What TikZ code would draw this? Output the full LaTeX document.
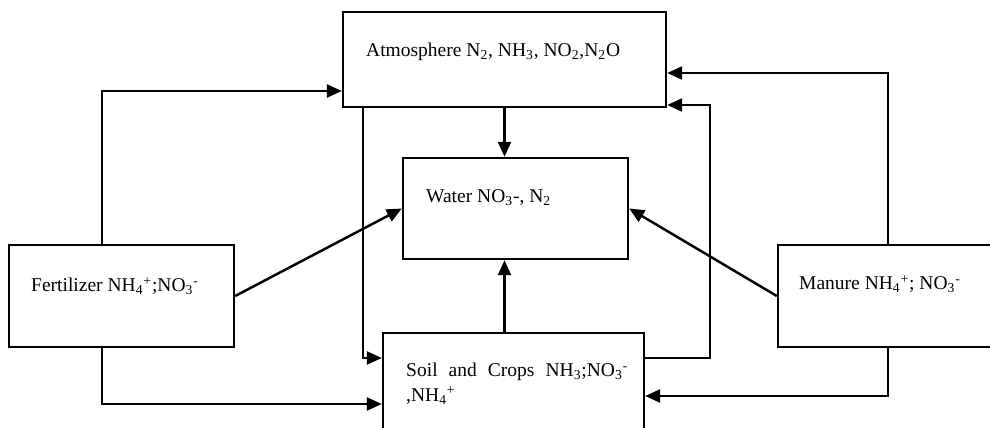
\documentclass[tikz,border=0pt]{standalone}
\usepackage{fontspec}
\setmainfont{Liberation Serif}
\usetikzlibrary{arrows.meta}

\begin{document}
\begin{tikzpicture}[x=0.02cm,y=-0.02cm,>={Triangle[length=3mm,width=2.6mm]},line width=1.4pt,
  every node/.style={font=\fontsize{11.1}{14.2}\selectfont},
  box/.style={draw,minimum width=4.5cm,minimum height=2.04cm,inner sep=0pt},
  txt/.style={anchor=base west,inner sep=0pt}]
\useasboundingbox (0,0) rectangle (990,428);
\clip (0,0) rectangle (990,428);
% boxes
\node[box,minimum width=6.46cm,minimum height=1.9cm] (atm) at (504.5,59.5) {};
\node[box,minimum height=2.02cm] (water) at (515.5,208.5) {};
\node[box] (fert) at (121.5,296) {};
\node[box] (manure) at (890.5,296) {};
\node[box,minimum width=5.22cm,minimum height=2.08cm] (soil) at (513.5,385) {};
% texts
\node[txt] (atmtxt) at (365,57) {Atmosphere N\textsubscript{2}, NH\textsubscript{3}, NO\textsubscript{2},N\textsubscript{2}O};
\node[txt] (watertxt) at (425,203) {Water NO\textsubscript{3}-, N\textsubscript{2}};
\node[txt] (ferttxt) at (30,292) {Fertilizer NH\textsubscript{4}\textsuperscript{+};NO\textsubscript{3}\textsuperscript{-}};
\node[txt] (manuretxt) at (798,290) {Manure NH\textsubscript{4}\textsuperscript{+}; NO\textsubscript{3}\textsuperscript{-}};
\node[txt] (soiltxt) at (405,377) {\begin{tabular}[t]{@{}l@{}}\makebox[4.44cm][s]{Soil and Crops NH\textsubscript{3};NO\textsubscript{3}\textsuperscript{-}}\\,NH\textsubscript{4}\textsuperscript{+}\end{tabular}};
% bends
\coordinate (fa) at (102,91);
\coordinate (fs) at (102,404);
\coordinate (as) at (363,358);
\coordinate (ma) at (888,73);
\coordinate (ms) at (888,396);
\coordinate (sa) at (710,105);
% flows
\draw[->] (fert.north -| fa) -- (fa) -- (atm.west |- fa);
\draw[->] (fert.south -| fs) -- (fs) -- (soil.west |- fs);
\draw[->] (atm.south -| as) -- (as) -- (soil.west |- as);
\draw[->] (atm.south) -- (atm.south |- water.north);
\draw[->] (soil.north -| atm.south) -- (water.south -| atm.south);
\draw[->] (fert.east) -- (water.west);
\draw[->] (manure.west) -- (water.east);
\draw[->] (manure.north -| ma) -- (ma) -- (atm.east |- ma);
\draw[->] (manure.south -| ms) -- (ms) -- (soil.east |- ms);
\draw[->] (soil.east |- as) -| (sa) -- (atm.east |- sa);
\end{tikzpicture}
\end{document}
